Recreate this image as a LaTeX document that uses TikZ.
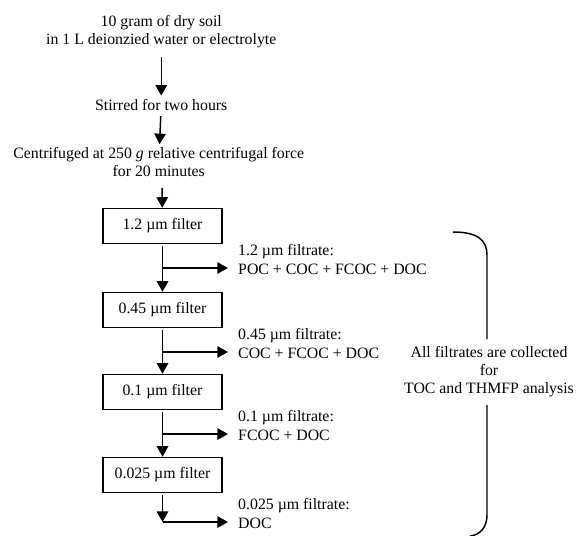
\documentclass[tikz,border=0pt]{standalone}
\usepackage{fontspec}
\setmainfont{Liberation Serif}
\usetikzlibrary{arrows.meta,calc,positioning}
\tikzset{
  every picture/.style={line width=1.7pt, line join=miter,
    >={Triangle[length=12pt,width=13pt]}},
  every node/.style={font=\fontsize{18}{20.5}\selectfont},
  % Kaestchen und Pfeile
  filterbox/.style={draw, minimum width=4.76cm, minimum height=1.4cm, inner sep=0pt},
  flow/.style={->, shorten <=2pt},
  % Beschriftung der Filtrate
  lbl/.style={align=left, anchor=west, inner sep=0pt},
}
\begin{document}
\begin{tikzpicture}
  \useasboundingbox (0,0) rectangle (23.08,-21.44);
  % Probenvorbereitung
  \node[align=center] (soil) at (6.45,-1.26) {10 gram of dry soil\\in 1 L deionzied water or electrolyte};
  \node (stir) at (6.45,-4.2) {Stirred for two hours};
  \node[align=center] (centri) at (6.35,-6.5) {Centrifuged at 250 \textit{g} relative centrifugal force\\for 20 minutes};
  % Filterkaskade
  \node[filterbox] (f1) at (6.5,-9.04) {1.2 µm filter};
  \node[filterbox] (f2) at (6.5,-12.4) {0.45 µm filter};
  \node[filterbox] (f3) at (6.5,-15.68) {0.1 µm filter};
  \node[filterbox] (f4) at (6.5,-19.0) {0.025 µm filter};
  \draw[flow, shorten <=6pt] (soil) -- (stir);
  \draw[flow] (stir) -- (centri);
  \draw[flow, shorten <=8pt] ($(centri.south)+(0.13,0)$) -- (f1);
  \draw[flow] (f1) -- (f2);
  \draw[flow] (f2) -- (f3);
  \draw[flow] (f3) -- (f4);
  % Abzweige zu den Filtraten
  \coordinate (b1) at (6.5,-10.72);  \coordinate (t1) at (9.12,-10.72);
  \coordinate (b2) at (6.5,-14.08);  \coordinate (t2) at (9.12,-14.08);
  \coordinate (b3) at (6.5,-17.36);  \coordinate (t3) at (9.12,-17.36);
  \coordinate (b4) at (6.5,-20.88);  \coordinate (t4) at (9.12,-20.88);
  \draw[flow] (f4) -- (b4);
  \foreach \i in {1,...,4} {
    \draw[->] (b\i) -- (t\i);
  }
  \node[lbl] (l1) at (9.5,-10.38) {1.2 µm filtrate:\\POC + COC + FCOC + DOC};
  \node[lbl] (l2) at (9.5,-13.74) {0.45 µm filtrate:\\COC + FCOC + DOC};
  \node[lbl] (l3) at (9.5,-17.02) {0.1 µm filtrate:\\FCOC + DOC};
  \node[lbl] (l4) at (9.5,-20.54) {0.025 µm filtrate:\\DOC};
  % Klammer mit Hinweis
  \node[align=center] (collect) at (19.56,-14.88) {All filtrates are collected\\for\\TOC and THMFP analysis};
  \draw (18.12,-9.28) .. controls (19.1,-9.28) and (19.48,-9.6) .. (19.48,-10.2) -- (19.48,-13.56);
  \draw (19.48,-16.2) -- (19.48,-20.6) .. controls (19.48,-21.1) and (19.2,-21.4) .. (18.8,-21.44);
\end{tikzpicture}
\end{document}
